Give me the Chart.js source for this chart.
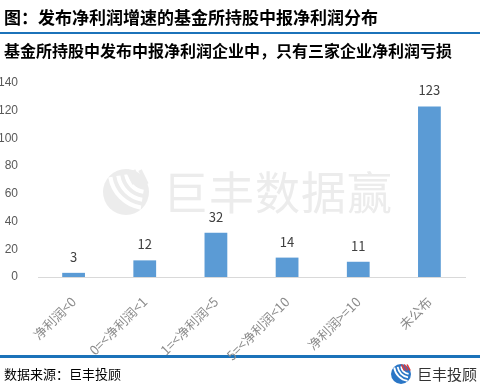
<!DOCTYPE html>
<html lang="zh">
<head>
    <meta charset="UTF-8">
    <title>净利润分布</title>
    <script src="https://cdn.jsdelivr.net/npm/chart.js"></script>
    <style>
        body { margin: 0; background: #fff; font-family: "Noto Sans CJK SC", sans-serif; }
        #wrap { position: relative; width: 480px; height: 390px; overflow: hidden; }
        .title { position: absolute; left: 4px; top: 5px; font-size: 17px; font-weight: bold; color: #000; white-space: nowrap; line-height: 24px; }
        .sub { position: absolute; left: 4px; top: 38px; font-size: 16px; font-weight: bold; color: #000; white-space: nowrap; line-height: 24px; }
        .line { position: absolute; left: 0; width: 480px; height: 2px; background: #1b72b9; }
        .src { position: absolute; left: 4px; top: 364px; font-size: 13px; color: #000; line-height: 20px; }
        .logo { position: absolute; left: 417px; top: 364px; font-size: 15px; color: #333; line-height: 20px; }
        .wm { position: absolute; left: 163px; top: 163px; font-size: 45px; color: #ececec; line-height: 56px; letter-spacing: 1px; }
        #marks { position: absolute; left: 0; top: 0; }
        #chartBox { position: absolute; left: 0; top: 0; width: 480px; height: 390px; }
    </style>
</head>
<body>
<div id="wrap">
    <canvas id="marks" width="480" height="390"></canvas>
    <div class="wm">巨丰数据赢</div>
    <div class="title">图：发布净利润增速的基金所持股中报净利润分布</div>
    <div class="line" style="top:32px"></div>
    <div class="sub">基金所持股中发布中报净利润企业中，只有三家企业净利润亏损</div>
    <div class="line" style="top:355px;height:3px"></div>
    <div class="src">数据来源：巨丰投顾</div>
    <div class="logo">巨丰投顾</div>
    <div id="chartBox"><canvas id="chart" width="480" height="390"></canvas></div>
</div>

<script>
    // 数据
    const categories = ['净利润<0', '0=<净利润<1', '1=<净利润<5', '5=<净利润<10', '净利润>=10', '未公布'];
    const counts = [3, 12, 32, 14, 11, 123];
    const yTicks = [0, 20, 40, 60, 80, 100, 120, 140];

    // 水印图标和 logo 图标
    const m = document.getElementById('marks').getContext('2d');
    function drawIcon(cx, cy, r, base, accent) {
        m.save();
        m.fillStyle = base;
        m.beginPath();
        m.arc(cx, cy, r, 0, Math.PI * 2);
        m.fill();
        m.strokeStyle = '#fff';
        m.lineWidth = r * 0.18;
        for (let i = 0; i < 3; i++) {
            m.beginPath();
            m.arc(cx + r * 0.9, cy - r * 0.9, r * (0.9 + i * 0.35), Math.PI * 0.55, Math.PI * 0.95);
            m.stroke();
        }
        m.strokeStyle = accent;
        m.lineWidth = r * 0.16;
        for (let i = 0; i < 3; i++) {
            m.beginPath();
            m.moveTo(cx + r * 0.05 + i * r * 0.28, cy - r * 0.95);
            m.lineTo(cx + r * 0.35 + i * r * 0.28, cy - r * 0.35);
            m.stroke();
        }
        m.restore();
    }
    drawIcon(126, 192, 23, '#ececec', '#ececec');
    drawIcon(401, 374, 10, '#2a76c6', '#e03a3a');

    // 柱子上的数值
    const valueLabels = {
        id: 'valueLabels',
        afterDatasetsDraw(chart) {
            const c = chart.ctx;
            const meta = chart.getDatasetMeta(0);
            c.save();
            c.font = '13px "Noto Sans CJK SC", sans-serif';
            c.fillStyle = '#404040';
            c.textAlign = 'center';
            c.textBaseline = 'middle';
            meta.data.forEach((bar, i) => {
                c.fillText(counts[i], bar.x, bar.y - 16);
            });
            c.restore();
        }
    };

    new Chart(document.getElementById('chart'), {
        type: 'bar',
        data: {
            labels: categories,
            datasets: [{
                data: counts,
                backgroundColor: '#5b9bd5',
                categoryPercentage: 1,
                barPercentage: 0.32
            }]
        },
        options: {
            responsive: false,
            animation: false,
            layout: { padding: { left: 0, right: 15, top: 83, bottom: 0 } },
            plugins: { legend: { display: false }, tooltip: { enabled: false } },
            scales: {
                x: {
                    grid: { display: false },
                    border: { color: '#d9d9d9' },
                    ticks: {
                        minRotation: 45, maxRotation: 45,
                        color: '#8c8c8c',
                        padding: 9,
                        font: { size: 13, family: '"Noto Sans CJK SC", sans-serif' }
                    },
                    afterFit(s) { s.height = 113; }
                },
                y: {
                    min: 0, max: 140,
                    afterBuildTicks(s) { s.ticks = yTicks.map(v => ({ value: v })); },
                    grid: { display: false },
                    border: { display: false },
                    ticks: {
                        color: '#595959',
                        padding: 12,
                        font: { size: 12, family: '"Liberation Sans", sans-serif' }
                    },
                    afterFit(s) { s.width = 38; }
                }
            }
        },
        plugins: [valueLabels]
    });
</script>
</body>
</html>
